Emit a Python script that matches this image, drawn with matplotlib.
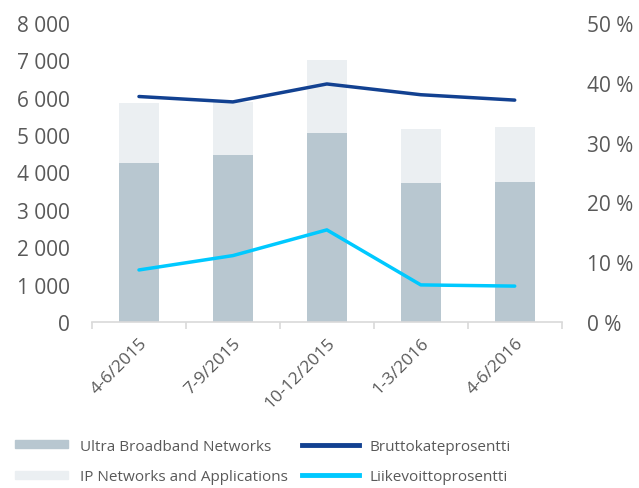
import matplotlib.pyplot as plt
from matplotlib.lines import Line2D
from matplotlib.patches import Patch

plt.rcParams['font.family'] = ['Open Sans', 'DejaVu Sans']

kaudet = ['4-6/2015', '7-9/2015', '10-12/2015', '1-3/2016', '4-6/2016']
ultra_broadband = [4250, 4470, 5050, 3710, 3750]
ip_networks = [1610, 1420, 1950, 1450, 1470]
bruttokate = [37.7, 36.8, 39.8, 38.0, 37.1]
liikevoitto = [8.7, 11.1, 15.4, 6.2, 6.0]

harmaa = '#595959'

fig = plt.figure(figsize=(6.39, 4.89), dpi=100)
ax = fig.add_axes([0.144, 0.3395, 0.735, 0.6115])
x = list(range(len(kaudet)))

ax.bar(x, ultra_broadband, width=0.43, color='#B8C7D0', zorder=2)
ax.bar(x, ip_networks, width=0.43, bottom=ultra_broadband, color='#EBEFF2', zorder=2)

ax.set_ylim(0, 8000)
ax.set_xlim(-0.5, len(kaudet) - 0.5)
ax.set_yticks(range(0, 8001, 1000))
ax.set_yticklabels([f'{v:,}'.replace(',', ' ') for v in range(0, 8001, 1000)])

ax2 = ax.twinx()
ax2.plot(x, bruttokate, color='#124191', lw=2.5, solid_capstyle='round')
ax2.plot(x, liikevoitto, color='#00C9FF', lw=2.5, solid_capstyle='round')
ax2.set_ylim(0, 50)
ax2.set_yticks(range(0, 51, 10))
ax2.set_yticklabels([f'{v} %' for v in range(0, 51, 10)])

for a in (ax, ax2):
    for s in a.spines.values():
        s.set_visible(False)
    a.tick_params(axis='y', length=0, labelsize=15, colors=harmaa)

ax.spines['bottom'].set_visible(True)
ax.spines['bottom'].set_color('#D9D9D9')
ax.spines['bottom'].set_linewidth(1.2)
ax.set_xticks([i - 0.5 for i in range(len(kaudet) + 1)])
ax.set_xticklabels([])
ax.set_xticks(x, minor=True)
ax.set_xticklabels(kaudet, minor=True, rotation=45, ha='right', rotation_mode='anchor',
                   fontsize=12.5, color=harmaa)
ax.tick_params(axis='x', which='major', length=5, color='#D9D9D9', width=1.2)
ax.tick_params(axis='x', which='minor', length=0, pad=9)
ax.tick_params(axis='y', pad=16)
ax2.tick_params(axis='y', pad=18)

leg1 = fig.legend([Patch(color='#B8C7D0'), Patch(color='#EBEFF2')],
                  ['Ultra Broadband Networks', 'IP Networks and Applications'],
                  loc='lower left', bbox_to_anchor=(15 / 639, 0.008), borderaxespad=0,
                  borderpad=0, frameon=False, fontsize=11, labelcolor=harmaa,
                  handlelength=3.5, handleheight=0.45, handletextpad=0.75,
                  labelspacing=1.0)
leg2 = fig.legend([Line2D([], [], color='#124191', lw=3.5),
                   Line2D([], [], color='#00C9FF', lw=3.5)],
                  ['Bruttokateprosentti', 'Liikevoittoprosentti'],
                  loc='lower left', bbox_to_anchor=(302 / 639, 0.008), borderaxespad=0,
                  borderpad=0, frameon=False, fontsize=11, labelcolor=harmaa,
                  handlelength=3.7, handleheight=0.45, handletextpad=0.75,
                  labelspacing=1.0)

fig.savefig('out.png', dpi=100)
